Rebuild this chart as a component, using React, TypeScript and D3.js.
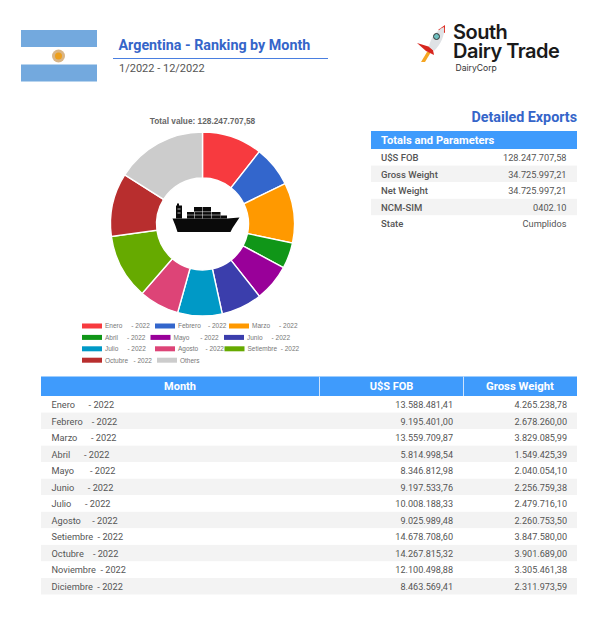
import React from 'react';
import * as d3 from 'd3';

const width = 613;
const height = 638;

const months = [
  'Enero      - 2022',
  'Febrero    - 2022',
  'Marzo      - 2022',
  'Abril      - 2022',
  'Mayo       - 2022',
  'Junio      - 2022',
  'Julio      - 2022',
  'Agosto     - 2022',
  'Setiembre  - 2022',
  'Octubre    - 2022',
  'Noviembre  - 2022',
  'Diciembre  - 2022',
];
const fobLabels = [
  '13.588.481,41', '9.195.401,00', '13.559.709,87', '5.814.998,54', '8.346.812,98', '9.197.533,76',
  '10.008.188,33', '9.025.989,48', '14.678.708,60', '14.267.815,32', '12.100.498,88', '8.463.569,41',
];
const weightLabels = [
  '4.265.238,78', '2.678.260,00', '3.829.085,99', '1.549.425,39', '2.040.054,10', '2.256.759,38',
  '2.479.716,10', '2.260.753,50', '3.847.580,00', '3.901.689,00', '3.305.461,38', '2.311.973,59',
];
const sliceNames = [
  'Enero     - 2022', 'Febrero    - 2022', 'Marzo     - 2022', 'Abril     - 2022', 'Mayo      - 2022',
  'Junio     - 2022', 'Julio     - 2022', 'Agosto    - 2022', 'Setiembre  - 2022', 'Octubre   - 2022', 'Others',
];
const sliceValues = [
  13588481.41, 9195401.0, 13559709.87, 5814998.54, 8346812.98, 9197533.76, 10008188.33, 9025989.48,
  14678708.6, 14267815.32, 20564068.29,
];
const sliceColors = [
  '#f73a3f', '#3366cc', '#ff9900', '#109618', '#990099', '#3b3eac', '#0099c6', '#dd4477', '#66aa00', '#b82e2e', '#cccccc',
];
const legendRows = [[0, 1, 2], [3, 4, 5], [6, 7, 8], [9, 10]];
const legendStarts = [[82, 155, 229], [82, 150.5, 224], [82, 155, 224.5], [82, 157]];

const detailLabels = ['U$S FOB', 'Gross Weight', 'Net Weight', 'NCM-SIM', 'State'];
const detailValues = ['128.247.707,58', '34.725.997,21', '34.725.997,21', '0402.10', 'Cumplidos'];

const font = 'Roboto, sans-serif';
const headerBlue = '#3f9bfc';
const textGrey = '#555';

const center = { x: 202.5, y: 224 };
const pie = d3.pie<number>().sort(null)(sliceValues);
const arc = d3.arc<d3.PieArcDatum<number>>().innerRadius(46).outerRadius(92);

const monthRow = d3.scaleBand<number>().domain(d3.range(months.length)).range([396, 594.5]);
const detailRow = d3.scaleBand<number>().domain(d3.range(detailLabels.length)).range([149, 232]);

const Ship = () => (
  <g transform="translate(172.5,203)" fill="#0a0a0a">
    <path d="M0 15.5 H55 L67 14.5 L60 25 L58 29 H5 L3 23 Z" />
    <rect x="3.5" y="2.5" width="6" height="13" />
    <rect x="4.5" y="0.5" width="2" height="3" />
    <rect x="14.5" y="9" width="33.5" height="6.5" />
    <rect x="21.5" y="4" width="17" height="5" />
    <rect x="48" y="12.5" width="6.5" height="3" />
    <path d="M5 6 H8 M5 10 H8" stroke="#fff" strokeWidth="0.7" />
    <path d="M22 9 V15.5 M30 4 V15.5 M39 9 V15.5 M14.5 12 H48 M21.5 8.7 H38.5" stroke="#fff" strokeWidth="0.5" />
  </g>
);

const Flag = () => (
  <g>
    <rect x="21" y="30" width="76" height="51" fill="#fff" />
    <rect x="21" y="30" width="76" height="17" fill="#73a9de" />
    <rect x="21" y="64.5" width="76" height="17" fill="#73a9de" />
    <circle cx="58.5" cy="56" r="6.5" fill="#d9b586" />
    <circle cx="58.5" cy="56" r="3.5" fill="#ed9f1c" />
  </g>
);

const Logo = () => (
  <g>
    <path d="M427 52 L431 52 L425 62 L421 62 Z" fill="#f5a623" />
    <path d="M430 47 L417 43 L426 51 L434 55 L433 50 Z" fill="#d7261e" />
    <path d="M438 30 L445 25 L445 33 Z" fill="#e02b20" />
    <path d="M429 47 C430 38 437 30 444 27 C445 35 441 44 434 51 Z" fill="#dfe2e5" />
    <circle cx="436.5" cy="36.5" r="3" fill="#6fc0c0" stroke="#333" strokeWidth="1" />
    <text x="453" y="39" fontFamily="Inter, sans-serif" fontWeight="600" fontSize="20" fill="#1a1a1a" letterSpacing="-0.5">South</text>
    <text x="453" y="58" fontFamily="Inter, sans-serif" fontWeight="600" fontSize="20" fill="#1a1a1a" letterSpacing="-0.5">Dairy Trade</text>
    <text x="455.5" y="71" fontFamily="Inter, sans-serif" fontSize="8.6" fill="#333">DairyCorp</text>
  </g>
);

const App = () => (
  <svg
    width={width}
    height={height}
    viewBox={`0 0 ${width} ${height}`}
    style={{ position: 'absolute', left: 0, top: 0, background: '#fff', fontFamily: font }}
  >
    <Flag />
    <text x="118.5" y="50" fontSize="14.3" fontWeight="700" fill="#3565c9">Argentina - Ranking by Month</text>
    <line x1="113" x2="328" y1="58.5" y2="58.5" stroke="#4a7fe0" strokeWidth="1" />
    <text x="119" y="72" fontSize="11" fill={textGrey}>1/2022 - 12/2022</text>
    <Logo />

    {/* donut */}
    <text x={center.x} y="124" textAnchor="middle" fontSize="8.3" fontWeight="700" fontFamily="Liberation Sans, Arial, sans-serif" fill="#666">
      Total value: 128.247.707,58
    </text>
    <g transform={`translate(${center.x},${center.y})`}>
      {pie.map((d, i) => (
        <path key={i} d={arc(d) ?? ''} fill={sliceColors[i]} stroke="#fff" strokeWidth="1.4" />
      ))}
    </g>
    <Ship />

    {/* legend */}
    <g fontFamily="Liberation Sans, Arial, sans-serif" fontSize="6.5" fill="#777">
      {legendRows.map((row, r) =>
        row.map((idx, c) => (
          <g key={idx} transform={`translate(${legendStarts[r][c]},${326 + r * 11.4})`}>
            <rect x="0" y="-2.5" width="20" height="5" fill={sliceColors[idx]} />
            <text x="23" y="2.3" style={{ whiteSpace: 'pre' }}>{sliceNames[idx]}</text>
          </g>
        )),
      )}
    </g>

    {/* detail table */}
    <text x="577" y="121.5" textAnchor="end" fontSize="14.3" fontWeight="700" fill="#3565c9">Detailed Exports</text>
    <rect x="371" y="131" width="206" height="18" fill={headerBlue} />
    <text x="381" y="144" fontSize="11.2" fontWeight="700" fill="#fff">Totals and Parameters</text>
    {detailLabels.map((label, i) => (
      <g key={label}>
        <rect x="371" y={detailRow(i)} width="206" height={detailRow.bandwidth()} fill={i % 2 ? '#f3f3f3' : '#fff'} />
        <text x="381" y={(detailRow(i) ?? 0) + 12} fontSize="9.5" fontWeight="500" fill={textGrey}>{label}</text>
        <text x="566.5" y={(detailRow(i) ?? 0) + 12} fontSize="9.2" textAnchor="end" fill={textGrey}>{detailValues[i]}</text>
      </g>
    ))}

    {/* month table */}
    <rect x="41" y="376.5" width="536" height="19.5" fill={headerBlue} />
    <line x1="319.5" x2="319.5" y1="376.5" y2="396" stroke="#cfe3fb" />
    <line x1="463.5" x2="463.5" y1="376.5" y2="396" stroke="#cfe3fb" />
    <text x="180" y="390" textAnchor="middle" fontSize="11" fontWeight="700" fill="#fff">Month</text>
    <text x="391.5" y="390" textAnchor="middle" fontSize="11" fontWeight="700" fill="#fff">U$S FOB</text>
    <text x="520" y="390" textAnchor="middle" fontSize="11.3" fontWeight="700" fill="#fff">Gross Weight</text>
    {months.map((m, i) => {
      const y = monthRow(i) ?? 0;
      const h = monthRow.bandwidth();
      return (
        <g key={m} fill={textGrey}>
          <rect x="41" y={y} width="536" height={h} fill={i % 2 ? '#f3f3f3' : '#fff'} />
          <text x="51.5" y={y + 12} fontSize="9.2" style={{ whiteSpace: 'pre' }}>{m}</text>
          <text x="453" y={y + 12} fontSize="9.1" textAnchor="end">{fobLabels[i]}</text>
          <text x="567" y={y + 12} fontSize="9.1" textAnchor="end">{weightLabels[i]}</text>
        </g>
      );
    })}
  </svg>
);

export default App;
